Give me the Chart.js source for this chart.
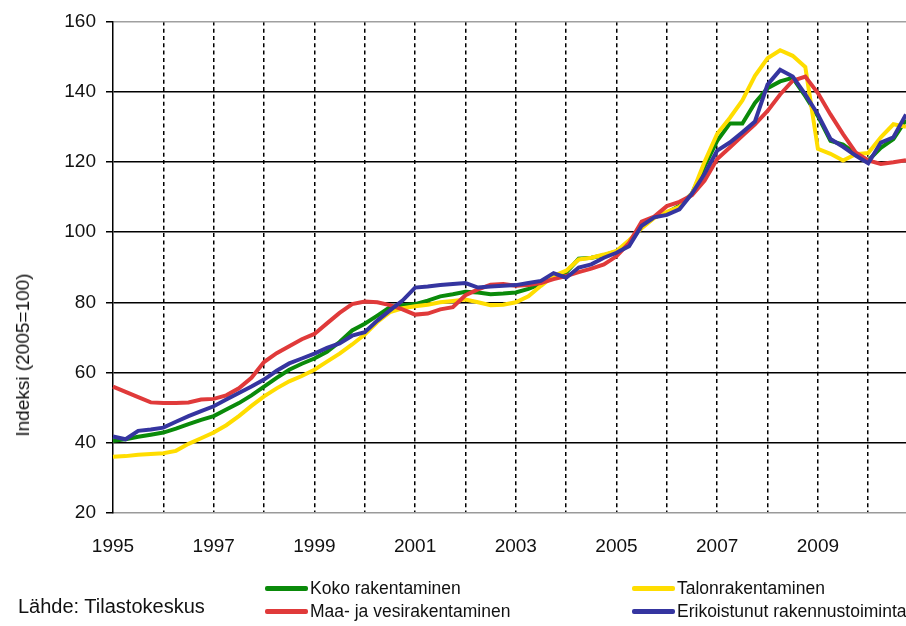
<!DOCTYPE html>
<html lang="fi">
<head>
<meta charset="utf-8">
<title>Rakennuskustannusindeksi</title>
<script src="https://cdn.jsdelivr.net/npm/chart.js@4.4.1/dist/chart.umd.min.js"></script>
<style>
  html, body { margin: 0; padding: 0; background: #fff; }
  #wrap { position: relative; width: 906px; height: 626px; overflow: hidden; font-family: "Liberation Sans", Arial, sans-serif; color: #111; }
  #chartCanvas { position: absolute; left: 0; top: 0; }
  .lg { position: absolute; font-size: 17.5px; line-height: 20px; white-space: nowrap; }
  .lg i { display: inline-block; width: 43px; height: 5px; border-radius: 2px; vertical-align: middle; margin-right: 2px; position: relative; top: -1px; }
  #source { position: absolute; left: 18px; top: 595px; font-size: 20px; }
  #ytitle { position: absolute; left: 23px; top: 355px; font-size: 19px; white-space: nowrap;
            transform: translate(-50%, -50%) rotate(-90deg); }
</style>
</head>
<body>
<div id="wrap">
  <canvas id="chartCanvas" width="906" height="626"></canvas>
  <div id="ytitle">Indeksi (2005=100)</div>
  <div class="lg" style="left:265px; top:578px;"><i style="background:#0a8a0a"></i>Koko rakentaminen</div>
  <div class="lg" style="left:265px; top:601px;"><i style="background:#e03a3a"></i>Maa- ja vesirakentaminen</div>
  <div class="lg" style="left:632px; top:578px;"><i style="background:#ffdd00"></i>Talonrakentaminen</div>
  <div class="lg" style="left:632px; top:601px;"><i style="background:#3535a0"></i>Erikoistunut rakennustoiminta</div>
  <div id="source">Lähde: Tilastokeskus</div>
</div>
<script>
/*
  Rakennuskustannusindeksi 1995–2010, neljännesvuosittain (2005=100).
  Arvot luettu kuvasta silmämääräisesti.
*/

// Kategoriat: vuodet ja neljännekset
const vuodet = [1995, 1996, 1997, 1998, 1999, 2000, 2001, 2002, 2003, 2004, 2005, 2006, 2007, 2008, 2009, 2010];
const neljannekset = ['Q1', 'Q2', 'Q3', 'Q4'];
const vuosiTikit = ['1995', '1997', '1999', '2001', '2003', '2005', '2007', '2009'];

// Sarjat
const kokoRakentaminen = [
  40.6, 41.0, 41.7, 42.3,  42.9, 44.0, 45.3, 46.5,  47.6, 49.5, 51.3, 53.5,  56.0, 58.5, 60.8, 62.5,
  64.0, 65.9, 68.7, 72.0,  73.9, 76.2, 78.6, 79.2,  79.5, 80.5, 81.7, 82.3,  83.0, 82.8, 82.3, 82.5,
  82.8, 83.8, 85.2, 87.5,  88.5, 92.4, 92.7, 93.4,  94.5, 97.0, 101.5, 104.2,  105.5, 107.5, 111.0, 118.8,
  126.0, 130.9, 130.9, 136.8,  141.0, 142.9, 143.9, 138.7,  133.0, 126.0, 124.9, 122.3,  120.4, 124.0, 126.5, 132.0
];
const talonrakentaminen = [
  36.0, 36.2, 36.6, 36.8,  37.0, 37.7, 39.7, 41.3,  42.9, 45.0, 47.6, 50.5,  53.2, 55.5, 57.5, 59.0,
  60.8, 63.1, 65.4, 68.0,  70.8, 74.4, 77.2, 78.3,  78.9, 79.3, 80.0, 80.4,  80.8, 80.0, 79.2, 79.3,
  80.0, 81.7, 84.7, 87.5,  89.0, 92.2, 92.7, 93.6,  94.6, 97.7, 101.1, 104.0,  105.8, 107.2, 111.0, 120.0,
  128.0, 132.5, 137.5, 144.5,  149.5, 151.8, 150.2, 147.0,  123.7, 122.3, 120.4, 122.2,  122.5, 127.0, 130.7, 130.0
];
const maaJaVesi = [
  56.0, 54.5, 53.0, 51.5,  51.3, 51.3, 51.5, 52.3,  52.5, 53.5, 55.5, 58.5,  63.0, 65.5, 67.5, 69.5,
  71.0, 74.0, 77.0, 79.5,  80.2, 80.0, 79.2, 78.0,  76.5, 76.8, 78.0, 78.6,  82.0, 83.7, 85.0, 85.2,
  84.7, 84.9, 85.5, 86.6,  87.5, 88.6, 89.6, 90.8,  93.1, 96.9, 103.0, 104.4,  107.4, 108.6, 110.5, 114.7,
  120.8, 124.1, 127.4, 130.7,  134.5, 139.2, 143.1, 144.3,  139.6, 133.5, 127.9, 122.7,  120.4, 119.4, 119.9, 120.5
];
const erikoistunut = [
  41.8, 41.0, 43.4, 43.8,  44.3, 46.0, 47.6, 49.0,  50.4, 52.3, 54.2, 56.0,  58.0, 60.5, 62.6, 64.0,
  65.4, 67.0, 68.3, 70.5,  71.5, 74.8, 77.7, 80.5,  84.2, 84.5, 84.9, 85.2,  85.5, 84.2, 84.5, 84.7,
  84.9, 85.5, 86.1, 88.3,  87.0, 89.9, 90.8, 92.7,  94.1, 96.0, 101.8, 104.2,  104.9, 106.5, 111.0, 116.6,
  123.2, 125.5, 128.4, 131.5,  142.0, 146.2, 144.3, 139.2,  133.5, 126.5, 124.3, 121.8,  119.6, 125.5, 127.0, 133.5
];

// kategoria-akselin nimet: "1995 Q1" jne.
const kvartaalit = [];
vuodet.forEach(v => neljannekset.forEach(q => kvartaalit.push(v + ' ' + q)));

const fontti = { family: '"Liberation Sans", Arial, sans-serif', size: 19 };

function sarja(nimi, data, vari, jarjestys) {
  return {
    label: nimi,
    data: data,
    borderColor: vari,
    backgroundColor: vari,
    borderWidth: 4,
    pointRadius: 0,
    tension: 0,
    order: jarjestys
  };
}

const ctx = document.getElementById('chartCanvas').getContext('2d');
const kaavio = new Chart(ctx, {
  type: 'line',
  data: {
    labels: kvartaalit,
    datasets: [
      sarja('Koko rakentaminen', kokoRakentaminen, '#0a8a0a', 3),
      sarja('Talonrakentaminen', talonrakentaminen, '#ffdd00', 2),
      sarja('Maa- ja vesirakentaminen', maaJaVesi, '#e03a3a', 1),
      sarja('Erikoistunut rakennustoiminta', erikoistunut, '#3535a0', 0)
    ]
  },
  options: {
    responsive: false,
    animation: false,
    devicePixelRatio: 1,
    layout: { padding: { top: 16, right: 0, bottom: 0, left: 0 } },
    plugins: {
      legend: { display: false },
      tooltip: { enabled: false }
    },
    scales: {
      x: {
        type: 'category',
        offset: false,
        afterFit: (s) => { s.height = 113; s.paddingRight = 0; s.paddingLeft = 0; },
        grid: {
          drawTicks: false,
          lineWidth: 1.5,
          color: (c) => (c.index > 0 && c.index % 4 === 0) ? '#000' : 'rgba(0,0,0,0)'
        },
        border: { display: true, color: '#9a9a9a', width: 1.5, dash: [4, 3.3] },
        ticks: {
          autoSkip: false,
          maxRotation: 0,
          padding: 22,
          color: '#111',
          font: fontti,
          callback: function (val, i) {
            const v = this.getLabelForValue(val).split(' ');
            return (v[1] === 'Q1' && vuosiTikit.includes(v[0])) ? v[0] : '';
          }
        }
      },
      y: {
        min: 20,
        max: 160,
        afterFit: (s) => { s.width = 113; },
        grid: {
          lineWidth: 1.5,
          color: (c) => c.tick.value === 160 ? '#a0a0a0' : (c.tick.value === 20 ? 'rgba(0,0,0,0)' : '#000'),
          tickColor: '#000',
          tickLength: 7
        },
        border: { display: true, color: '#000', width: 1.5 },
        ticks: { stepSize: 20, padding: 10, color: '#111', font: fontti }
      }
    }
  }
});
</script>
</body>
</html>
